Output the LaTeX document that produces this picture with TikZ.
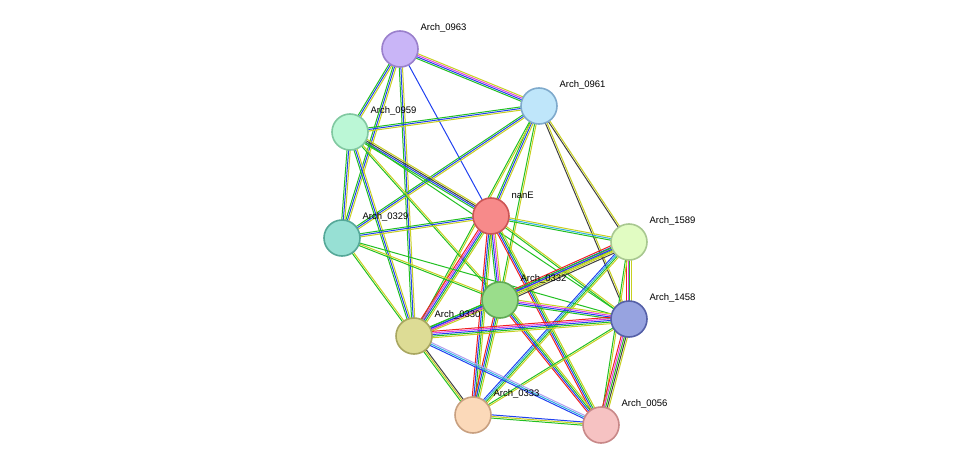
\documentclass[tikz,border=0pt]{standalone}
\usepackage{fontspec}
\setmainfont{Liberation Sans}
\usetikzlibrary{calc,backgrounds}
\definecolor{cG}{HTML}{22C022}
\definecolor{cB}{HTML}{2040F0}
\definecolor{cY}{HTML}{C8D020}
\definecolor{cM}{HTML}{E040E0}
\definecolor{cR}{HTML}{F02020}
\definecolor{cC}{HTML}{30B0E0}
\definecolor{cK}{HTML}{404040}
\definecolor{cL}{HTML}{B0A0F0}
\tikzset{
  prot/.style={circle,draw,line width=1.6pt,minimum size=36pt,inner sep=0pt},
  lab/.style={anchor=west,font=\fontsize{9.5pt}{11pt}\selectfont,text=black},
}
\newcommand\sedge[4]{%
  \foreach \c [count=\i] in {#4}{%
    \draw[\c,line width=1pt]
      ($(#1)!{1.6pt*(\i-1-(#3-1)/2)}!90:(#2)$) --
      ($(#2)!{1.6pt*(\i-1-(#3-1)/2)}!-90:(#1)$);
  }}
\newcommand\prot[5]{%
  \definecolor{f#1}{HTML}{#4}\definecolor{d#1}{HTML}{#5}%
  \node[prot,fill=f#1,draw=d#1] (#1) at (#2,#3) {};
  \node[lab] at ($(#1)+(17,-21)$) {\detokenize{#1}};}
\begin{document}
\begin{tikzpicture}[x=1pt,y=-1pt]
\useasboundingbox (0,0) rectangle (975,471);
\prot{Arch_0963}{400}{49}{C9B5F7}{9A80CC}
\prot{Arch_0961}{539}{106}{BFE6FA}{7FAACC}
\prot{Arch_0959}{350}{132}{BBF7D6}{80C8A0}
\prot{nanE}{491}{216}{F78A8A}{CC5555}
\prot{Arch_0329}{342}{238}{97E0D4}{55A898}
\prot{Arch_1589}{629}{242}{E1FCC2}{A8C890}
\prot{Arch_0332}{500}{300}{9ADD8B}{60AA55}
\prot{Arch_1458}{629}{319}{97A3E0}{5560A8}
\prot{Arch_0330}{414}{336}{DDDC95}{A8A660}
\prot{Arch_0333}{473}{415}{FBD9B9}{C8A080}
\prot{Arch_0056}{601}{425}{F6C2C2}{C88888}
\begin{scope}[on background layer]
\sedge{Arch_0963}{Arch_0961}{4}{cG,cB,cM,cY}
\sedge{Arch_0963}{Arch_0959}{3}{cG,cB,cY}
\sedge{Arch_0963}{Arch_0329}{3}{cG,cB,cY}
\sedge{Arch_0963}{Arch_0330}{3}{cG,cB,cY}
\sedge{Arch_0963}{nanE}{1}{cB}
\sedge{Arch_0961}{Arch_0959}{3}{cG,cB,cY}
\sedge{Arch_0961}{Arch_0329}{3}{cG,cB,cY}
\sedge{Arch_0961}{nanE}{3}{cG,cB,cY}
\sedge{Arch_0961}{Arch_0330}{2}{cG,cY}
\sedge{Arch_0961}{Arch_0332}{2}{cG,cY}
\sedge{Arch_0961}{Arch_1589}{2}{cK,cY}
\sedge{Arch_0961}{Arch_1458}{2}{cK,cY}
\sedge{Arch_0959}{nanE}{4}{cG,cB,cK,cY}
\sedge{Arch_0959}{Arch_0329}{3}{cG,cB,cY}
\sedge{Arch_0959}{Arch_0330}{3}{cG,cB,cY}
\sedge{Arch_0959}{Arch_0332}{2}{cG,cY}
\sedge{Arch_0959}{Arch_1458}{1}{cG}
\sedge{nanE}{Arch_0329}{3}{cG,cB,cY}
\sedge{nanE}{Arch_1589}{3}{cG,cC,cY}
\sedge{nanE}{Arch_0332}{4}{cG,cB,cM,cY}
\sedge{nanE}{Arch_1458}{2}{cG,cY}
\sedge{nanE}{Arch_0330}{5}{cR,cM,cB,cG,cY}
\sedge{nanE}{Arch_0333}{4}{cR,cB,cG,cY}
\sedge{nanE}{Arch_0056}{4}{cR,cB,cG,cY}
\sedge{Arch_0329}{Arch_0332}{2}{cG,cY}
\sedge{Arch_0329}{Arch_0330}{2}{cG,cY}
\sedge{Arch_0329}{Arch_1458}{1}{cG}
\sedge{Arch_1589}{Arch_0332}{6}{cR,cB,cM,cG,cY,cK}
\sedge{Arch_1589}{Arch_1458}{4}{cR,cM,cG,cY}
\sedge{Arch_1589}{Arch_0330}{3}{cG,cB,cY}
\sedge{Arch_1589}{Arch_0333}{4}{cB,cC,cG,cY}
\sedge{Arch_1589}{Arch_0056}{2}{cG,cY}
\sedge{Arch_0332}{Arch_1458}{4}{cG,cB,cM,cY}
\sedge{Arch_0332}{Arch_0330}{4}{cG,cB,cM,cY}
\sedge{Arch_0332}{Arch_0333}{4}{cR,cB,cG,cY}
\sedge{Arch_0332}{Arch_0056}{4}{cR,cB,cG,cY}
\sedge{Arch_1458}{Arch_0330}{5}{cR,cM,cB,cG,cY}
\sedge{Arch_1458}{Arch_0333}{2}{cG,cY}
\sedge{Arch_1458}{Arch_0056}{5}{cR,cM,cG,cK,cY}
\sedge{Arch_0330}{Arch_0333}{3}{cG,cY,cK}
\sedge{Arch_0330}{Arch_0056}{3}{cB,cC,cL}
\sedge{Arch_0333}{Arch_0056}{3}{cG,cY,cB}
\end{scope}
\end{tikzpicture}
\end{document}
